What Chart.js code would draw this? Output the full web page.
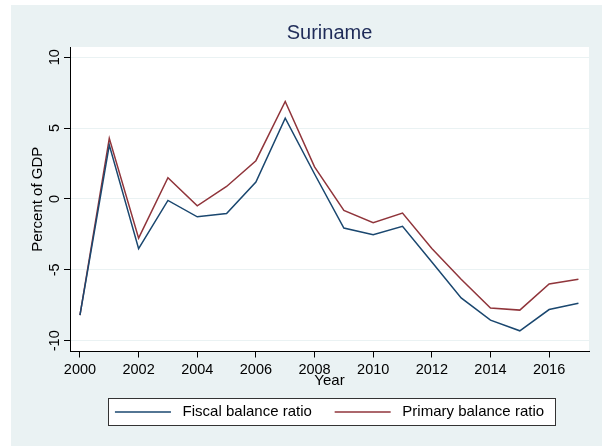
<!DOCTYPE html>
<html>
<head>
<meta charset="utf-8">
<script src="https://cdn.jsdelivr.net/npm/chart.js@4.4.1/dist/chart.umd.min.js"></script>
<style>
  html, body { margin: 0; padding: 0; background: #ffffff; }
  #wrap { width: 602px; height: 446px; }
</style>
</head>
<body>
<div id="wrap"><canvas id="suriname" width="602" height="446"></canvas></div>
<script>
// Suriname fiscal balances, percent of GDP
var years = [2000, 2001, 2002, 2003, 2004, 2005, 2006, 2007, 2008,
             2009, 2010, 2011, 2012, 2013, 2014, 2015, 2016, 2017];
var fiscalBalance = [-8.2, 3.8, -3.5, -0.1, -1.26, -1.03, 1.2, 5.7, 1.76,
                     -2.05, -2.53, -1.93, -4.45, -6.98, -8.55, -9.3, -7.8, -7.35];
var primaryBalance = [-8.2, 4.28, -2.76, 1.5, -0.48, 0.88, 2.7, 6.88, 2.26,
                      -0.81, -1.67, -1.0, -3.5, -5.67, -7.69, -7.84, -6.0, -5.67];
var xTicks = [2000, 2002, 2004, 2006, 2008, 2010, 2012, 2014, 2016];
var yTicks = [-10, -5, 0, 5, 10];

var bgColor = "#eaf2f3";
var font = "'Liberation Sans', Arial, Helvetica, sans-serif";

function points(vals) {
  return years.map(function (yr, i) { return { x: yr, y: vals[i] }; });
}

// backgrounds + legend frame
var backdrop = {
  id: "backdrop",
  beforeDraw: function (chart) {
    var c = chart.ctx;
    var a = chart.chartArea;
    c.save();
    c.fillStyle = "#ffffff";
    c.fillRect(0, 0, chart.width, chart.height);
    c.fillStyle = bgColor;
    c.fillRect(11, 5, chart.width - 11, chart.height - 5);
    c.fillStyle = "#ffffff";
    c.fillRect(a.left, a.top, a.right - a.left, a.bottom - a.top);

    var boxes = chart.legend.legendHitBoxes;
    if (boxes && boxes.length) {
      var first = boxes[0];
      var last = boxes[boxes.length - 1];
      var cy = first.top + first.height / 2;
      var x0 = Math.round(first.left - 7) + 0.5;
      var x1 = Math.round(last.left + last.width + 11) + 0.5;
      var y0 = Math.round(cy - 14) + 0.5;
      var y1 = Math.round(cy + 13) + 0.5;
      c.fillStyle = "#ffffff";
      c.fillRect(x0, y0, x1 - x0, y1 - y0);
      c.strokeStyle = "#333333";
      c.lineWidth = 1;
      c.strokeRect(x0, y0, x1 - x0, y1 - y0);
    }
    c.restore();
  }
};

var ctx = document.getElementById("suriname").getContext("2d");
var chart = new Chart(ctx, {
  type: "line",
  data: {
    datasets: [
      {
        label: " Fiscal balance ratio  ",
        data: points(fiscalBalance),
        borderColor: "#1a476f",
        backgroundColor: "#1a476f",
        borderWidth: 1.5,
        pointRadius: 0,
        tension: 0,
      },
      {
        label: " Primary balance ratio",
        data: points(primaryBalance),
        borderColor: "#90353b",
        backgroundColor: "#90353b",
        borderWidth: 1.5,
        pointRadius: 0,
        tension: 0,
      },
    ],
  },
  options: {
    responsive: false,
    animation: false,
    layout: { padding: { left: 11, top: 5, right: 13, bottom: 16.5 } },
    scales: {
      x: {
        type: "linear",
        min: 1999.66,
        max: 2017.36,
        afterBuildTicks: function (s) {
          s.ticks = xTicks.map(function (v) { return { value: v }; });
        },
        afterFit: function (s) { s.height = 38.5; },
        ticks: {
          color: "#000000",
          font: { family: font, size: 14.5 },
          padding: 4,
          maxRotation: 0,
          autoSkip: false,
          callback: function (v) { return String(v); },
        },
        grid: {
          drawOnChartArea: false,
          drawTicks: true,
          tickLength: 6,
          tickColor: "#000000",
        },
        border: { display: true, color: "#000000", width: 1 },
        title: {
          display: true,
          text: "Year",
          color: "#000000",
          font: { family: font, size: 15 },
          padding: { top: 0, bottom: 0 },
        },
      },
      y: {
        type: "linear",
        min: -10.76,
        max: 10.72,
        afterBuildTicks: function (s) {
          s.ticks = yTicks.map(function (v) { return { value: v }; });
        },
        afterFit: function (s) { s.width = 59; },
        ticks: {
          color: "#000000",
          font: { family: font, size: 14.5 },
          minRotation: 90,
          maxRotation: 90,
          crossAlign: "center",
          padding: -1.8,
          autoSkip: false,
          callback: function (v) { return String(v); },
        },
        grid: {
          color: bgColor,
          lineWidth: 1,
          drawTicks: true,
          tickLength: 6,
          tickColor: "#000000",
        },
        border: { display: true, color: "#000000", width: 1 },
        title: {
          display: true,
          text: "Percent of GDP",
          color: "#000000",
          font: { family: font, size: 15 },
          padding: { top: 18, bottom: 0 },
        },
      },
    },
    plugins: {
      title: {
        display: true,
        text: "Suriname",
        color: "#1e2b58",
        fullSize: false,
        font: { family: font, size: 20, weight: "normal" },
        padding: { top: 16.5, bottom: 1.5 },
      },
      legend: {
        position: "bottom",
        fullSize: false,
        labels: {
          color: "#000000",
          font: { family: font, size: 15 },
          usePointStyle: true,
          pointStyle: "line",
          pointStyleWidth: 56,
          padding: 14.5,
        },
      },
      tooltip: { enabled: false },
    },
  },
  plugins: [backdrop],
});
</script>
</body>
</html>
